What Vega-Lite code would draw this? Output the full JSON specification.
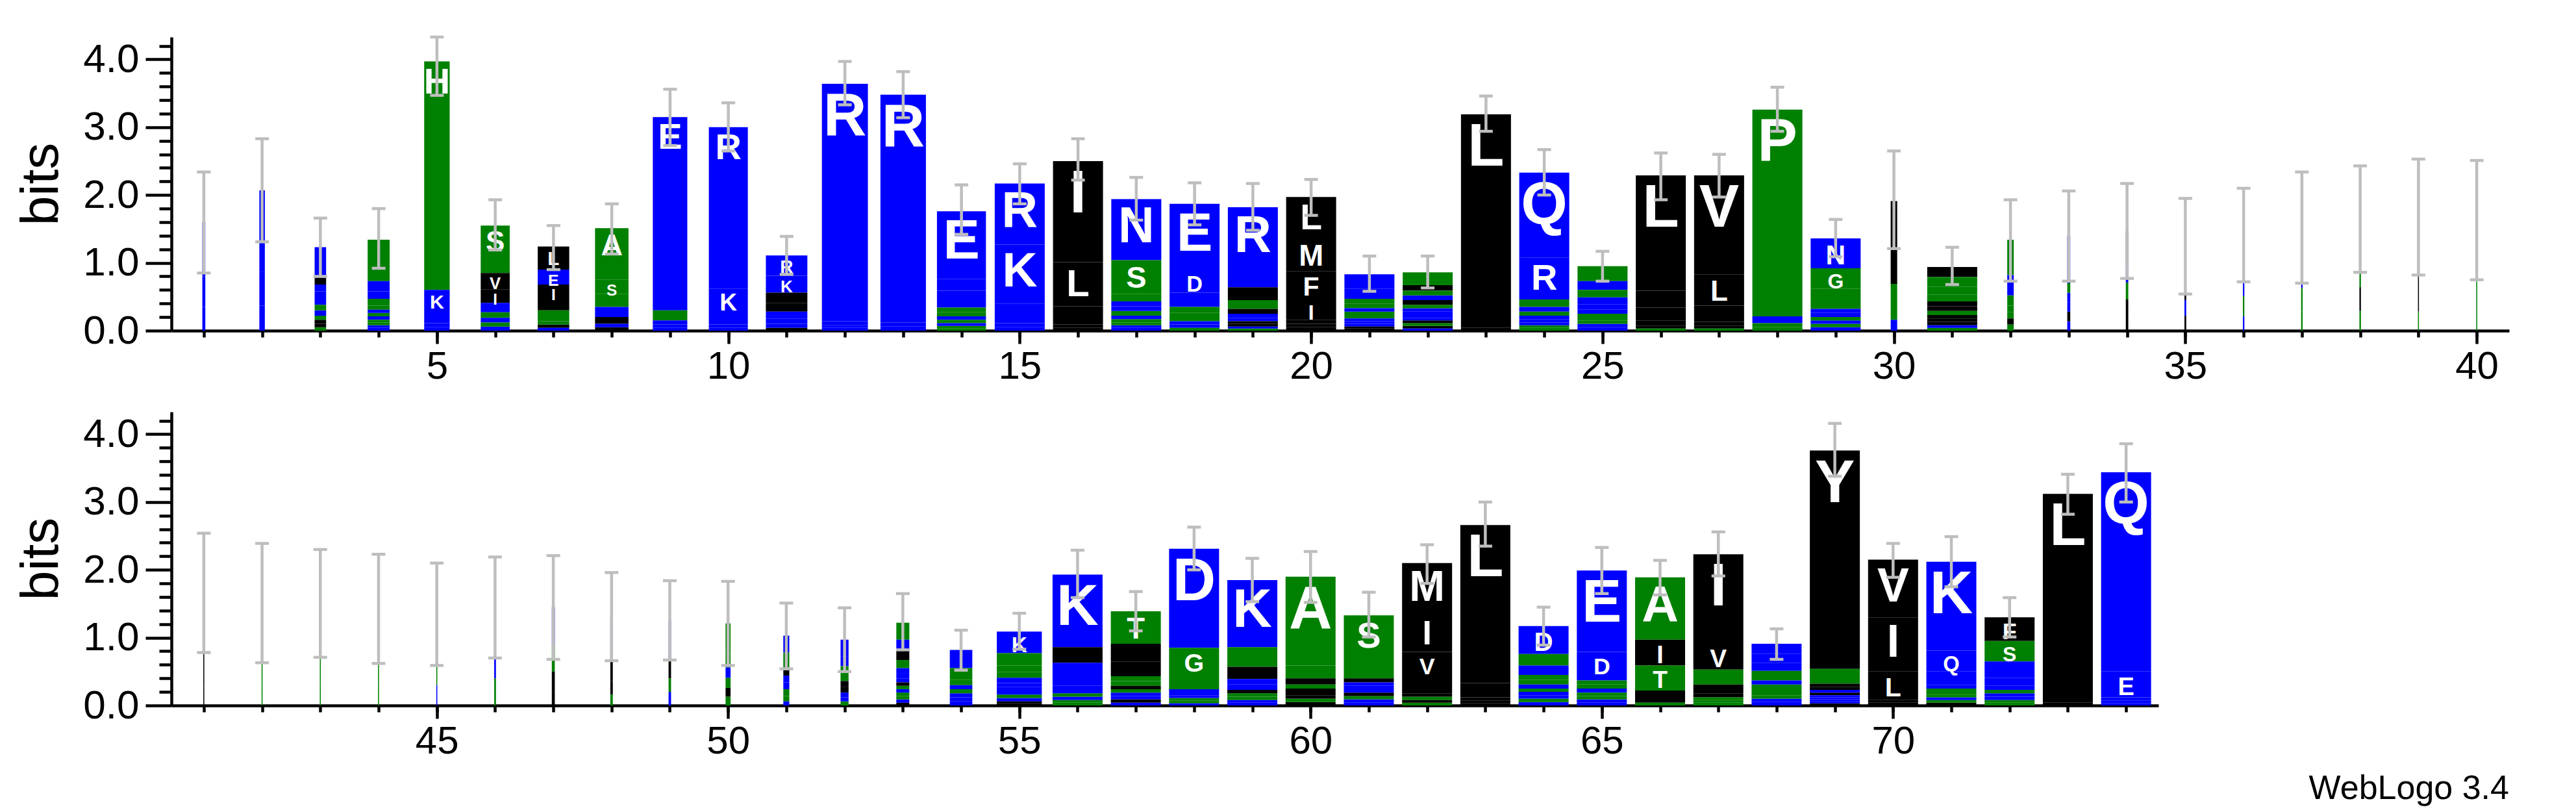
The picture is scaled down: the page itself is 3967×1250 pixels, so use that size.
{
"$schema": "https://vega.github.io/schema/vega-lite/v6.json",
"background": "white",
"padding": {"left": 22, "top": 54, "right": 10, "bottom": 10},
"title": {"text": "WebLogo 3.4", "orient": "bottom", "anchor": "end", "fontSize": 52, "font": "Liberation Sans", "fontWeight": "normal", "color": "black", "offset": 18},
"config": {"view": {"stroke": null}},
"bounds": "flush",
"spacing": 125,
"datasets": {
"E": [
{"p":1,"lo":0.85,"hi":2.34},{"p":2,"lo":1.31,"hi":2.83},{"p":3,"lo":0.8,"hi":1.66},{"p":4,"lo":0.92,"hi":1.8},{"p":5,"lo":3.47,"hi":4.33},
{"p":6,"lo":1.19,"hi":1.93},{"p":7,"lo":0.9,"hi":1.55},{"p":8,"lo":1.13,"hi":1.87},{"p":9,"lo":2.73,"hi":3.56},{"p":10,"lo":2.65,"hi":3.36},
{"p":11,"lo":0.83,"hi":1.39},{"p":12,"lo":3.33,"hi":3.97},{"p":13,"lo":3.14,"hi":3.82},{"p":14,"lo":1.42,"hi":2.15},{"p":15,"lo":1.87,"hi":2.46},
{"p":16,"lo":2.22,"hi":2.83},{"p":17,"lo":1.63,"hi":2.26},{"p":18,"lo":1.56,"hi":2.18},{"p":19,"lo":1.48,"hi":2.17},{"p":20,"lo":1.7,"hi":2.23},
{"p":21,"lo":0.58,"hi":1.1},{"p":22,"lo":0.63,"hi":1.1},{"p":23,"lo":2.94,"hi":3.46},{"p":24,"lo":2.0,"hi":2.67},{"p":25,"lo":0.73,"hi":1.17},
{"p":26,"lo":1.93,"hi":2.62},{"p":27,"lo":1.97,"hi":2.6},{"p":28,"lo":2.94,"hi":3.59},{"p":29,"lo":1.09,"hi":1.64},{"p":30,"lo":1.21,"hi":2.65},
{"p":31,"lo":0.68,"hi":1.23},{"p":32,"lo":0.73,"hi":1.93},{"p":33,"lo":0.73,"hi":2.06},{"p":34,"lo":0.77,"hi":2.17},{"p":35,"lo":0.54,"hi":1.95},
{"p":36,"lo":0.72,"hi":2.1},{"p":37,"lo":0.7,"hi":2.34},{"p":38,"lo":0.86,"hi":2.43},{"p":39,"lo":0.82,"hi":2.53},{"p":40,"lo":0.75,"hi":2.51},
{"p":41,"lo":0.78,"hi":2.54},{"p":42,"lo":0.63,"hi":2.39},{"p":43,"lo":0.71,"hi":2.3},{"p":44,"lo":0.62,"hi":2.23},{"p":45,"lo":0.59,"hi":2.1},
{"p":46,"lo":0.7,"hi":2.19},{"p":47,"lo":0.68,"hi":2.21},{"p":48,"lo":0.66,"hi":1.96},{"p":49,"lo":0.67,"hi":1.84},{"p":50,"lo":0.59,"hi":1.83},
{"p":51,"lo":0.54,"hi":1.51},{"p":52,"lo":0.5,"hi":1.44},{"p":53,"lo":0.82,"hi":1.65},{"p":54,"lo":0.52,"hi":1.11},{"p":55,"lo":0.83,"hi":1.36},
{"p":56,"lo":1.59,"hi":2.29},{"p":57,"lo":1.1,"hi":1.68},{"p":58,"lo":2.0,"hi":2.63},{"p":59,"lo":1.53,"hi":2.17},{"p":60,"lo":1.52,"hi":2.27},
{"p":61,"lo":1.01,"hi":1.67},{"p":62,"lo":1.8,"hi":2.37},{"p":63,"lo":2.35,"hi":3.0},{"p":64,"lo":0.89,"hi":1.45},{"p":65,"lo":1.65,"hi":2.33},
{"p":66,"lo":1.63,"hi":2.14},{"p":67,"lo":1.91,"hi":2.56},{"p":68,"lo":0.68,"hi":1.13},{"p":69,"lo":3.38,"hi":4.16},{"p":70,"lo":1.89,"hi":2.39},
{"p":71,"lo":1.75,"hi":2.49},{"p":72,"lo":1.01,"hi":1.59},{"p":73,"lo":2.82,"hi":3.41},{"p":74,"lo":3.0,"hi":3.86}
],
"L": [
{"p":1,"a":"K","b":0.8,"w":0.06},{"p":1,"a":"R","b":0.45,"w":0.06},{"p":1,"a":"E","b":0.35,"w":0.06},
{"p":2,"a":"K","b":1.2,"w":0.11},{"p":2,"a":"R","b":0.5,"w":0.11},{"p":2,"a":"E","b":0.37,"w":0.11},
{"p":3,"a":"K","b":0.34,"w":0.23},{"p":3,"a":"D","b":0.1,"w":0.23},{"p":3,"a":"E","b":0.1,"w":0.23},{"p":3,"a":"R","b":0.1,"w":0.23},{"p":3,"a":"Q","b":0.11,"w":0.23},{"p":3,"a":"I","b":0.1,"w":0.23},{"p":3,"a":"N","b":0.08,"w":0.23},{"p":3,"a":"T","b":0.08,"w":0.23},{"p":3,"a":"V","b":0.06,"w":0.23},{"p":3,"a":"S","b":0.06,"w":0.23},{"p":3,"a":"A","b":0.05,"w":0.23},{"p":3,"a":"L","b":0.05,"w":0.23},
{"p":4,"a":"S","b":0.61,"w":0.44},{"p":4,"a":"N","b":0.15,"w":0.44},{"p":4,"a":"E","b":0.11,"w":0.44},{"p":4,"a":"A","b":0.1,"w":0.44},{"p":4,"a":"T","b":0.06,"w":0.44},{"p":4,"a":"K","b":0.05,"w":0.44},{"p":4,"a":"G","b":0.05,"w":0.44},{"p":4,"a":"D","b":0.05,"w":0.44},{"p":4,"a":"Q","b":0.04,"w":0.44},{"p":4,"a":"R","b":0.04,"w":0.44},{"p":4,"a":"H","b":0.04,"w":0.44},{"p":4,"a":"P","b":0.04,"w":0.44},
{"p":5,"a":"H","b":3.37,"w":0.51},{"p":5,"a":"K","b":0.36,"w":0.51},{"p":5,"a":"N","b":0.13,"w":0.51},{"p":5,"a":"R","b":0.06,"w":0.51},{"p":5,"a":"Q","b":0.05,"w":0.51},
{"p":6,"a":"S","b":0.7,"w":0.58},{"p":6,"a":"V","b":0.24,"w":0.58},{"p":6,"a":"I","b":0.2,"w":0.58},{"p":6,"a":"N","b":0.14,"w":0.58},{"p":6,"a":"T","b":0.08,"w":0.58},{"p":6,"a":"D","b":0.07,"w":0.58},{"p":6,"a":"E","b":0.06,"w":0.58},{"p":6,"a":"G","b":0.06,"w":0.58},
{"p":7,"a":"L","b":0.34,"w":0.63},{"p":7,"a":"E","b":0.22,"w":0.63},{"p":7,"a":"I","b":0.21,"w":0.63},{"p":7,"a":"M","b":0.17,"w":0.63},{"p":7,"a":"A","b":0.16,"w":0.63},{"p":7,"a":"V","b":0.05,"w":0.63},{"p":7,"a":"T","b":0.05,"w":0.63},{"p":7,"a":"K","b":0.04,"w":0.63},
{"p":8,"a":"A","b":0.76,"w":0.67},{"p":8,"a":"S","b":0.21,"w":0.67},{"p":8,"a":"T","b":0.19,"w":0.67},{"p":8,"a":"R","b":0.15,"w":0.67},{"p":8,"a":"V","b":0.1,"w":0.67},{"p":8,"a":"M","b":0.05,"w":0.67},{"p":8,"a":"K","b":0.05,"w":0.67},
{"p":9,"a":"E","b":2.85,"w":0.69},{"p":9,"a":"A","b":0.15,"w":0.69},{"p":9,"a":"K","b":0.06,"w":0.69},{"p":9,"a":"D","b":0.05,"w":0.69},{"p":9,"a":"Q","b":0.04,"w":0.69},
{"p":10,"a":"R","b":2.38,"w":0.78},{"p":10,"a":"K","b":0.53,"w":0.78},{"p":10,"a":"E","b":0.05,"w":0.78},{"p":10,"a":"Q","b":0.04,"w":0.78},
{"p":11,"a":"R","b":0.3,"w":0.83},{"p":11,"a":"K","b":0.25,"w":0.83},{"p":11,"a":"L","b":0.15,"w":0.83},{"p":11,"a":"V","b":0.13,"w":0.83},{"p":11,"a":"E","b":0.1,"w":0.83},{"p":11,"a":"D","b":0.08,"w":0.83},{"p":11,"a":"Q","b":0.06,"w":0.83},{"p":11,"a":"I","b":0.04,"w":0.83},
{"p":12,"a":"R","b":3.5,"w":0.92},{"p":12,"a":"K","b":0.06,"w":0.92},{"p":12,"a":"Q","b":0.04,"w":0.92},{"p":12,"a":"E","b":0.04,"w":0.92},
{"p":13,"a":"R","b":3.28,"w":0.91},{"p":13,"a":"K","b":0.08,"w":0.91},{"p":13,"a":"Q","b":0.06,"w":0.91},{"p":13,"a":"E","b":0.06,"w":0.91},
{"p":14,"a":"E","b":1.0,"w":0.98},{"p":14,"a":"K","b":0.17,"w":0.98},{"p":14,"a":"D","b":0.15,"w":0.98},{"p":14,"a":"Q","b":0.1,"w":0.98},{"p":14,"a":"T","b":0.07,"w":0.98},{"p":14,"a":"S","b":0.06,"w":0.98},{"p":14,"a":"G","b":0.05,"w":0.98},{"p":14,"a":"N","b":0.05,"w":0.98},{"p":14,"a":"A","b":0.04,"w":0.98},{"p":14,"a":"R","b":0.04,"w":0.98},{"p":14,"a":"H","b":0.03,"w":0.98},
{"p":15,"a":"R","b":0.9,"w":1},{"p":15,"a":"K","b":0.87,"w":1},{"p":15,"a":"E","b":0.15,"w":1},{"p":15,"a":"Q","b":0.14,"w":1},{"p":15,"a":"D","b":0.06,"w":1},{"p":15,"a":"N","b":0.05,"w":1},
{"p":16,"a":"I","b":1.49,"w":1},{"p":16,"a":"L","b":0.65,"w":1},{"p":16,"a":"M","b":0.27,"w":1},{"p":16,"a":"V","b":0.05,"w":1},{"p":16,"a":"F","b":0.04,"w":1},
{"p":17,"a":"N","b":0.9,"w":1},{"p":17,"a":"S","b":0.5,"w":1},{"p":17,"a":"G","b":0.11,"w":1},{"p":17,"a":"A","b":0.07,"w":1},{"p":17,"a":"E","b":0.07,"w":1},{"p":17,"a":"D","b":0.07,"w":1},{"p":17,"a":"T","b":0.05,"w":1},{"p":17,"a":"Q","b":0.05,"w":1},{"p":17,"a":"K","b":0.04,"w":1},{"p":17,"a":"R","b":0.04,"w":1},{"p":17,"a":"P","b":0.04,"w":1},
{"p":18,"a":"E","b":0.98,"w":1},{"p":18,"a":"D","b":0.33,"w":1},{"p":18,"a":"Q","b":0.21,"w":1},{"p":18,"a":"A","b":0.09,"w":1},{"p":18,"a":"G","b":0.06,"w":1},{"p":18,"a":"S","b":0.06,"w":1},{"p":18,"a":"K","b":0.05,"w":1},{"p":18,"a":"N","b":0.05,"w":1},{"p":18,"a":"T","b":0.04,"w":1},
{"p":19,"a":"R","b":0.93,"w":1},{"p":19,"a":"K","b":0.25,"w":1},{"p":19,"a":"L","b":0.19,"w":1},{"p":19,"a":"H","b":0.13,"w":1},{"p":19,"a":"M","b":0.07,"w":1},{"p":19,"a":"E","b":0.06,"w":1},{"p":19,"a":"Q","b":0.05,"w":1},{"p":19,"a":"I","b":0.04,"w":1},{"p":19,"a":"V","b":0.04,"w":1},{"p":19,"a":"T","b":0.03,"w":1},{"p":19,"a":"N","b":0.03,"w":1},
{"p":20,"a":"L","b":0.61,"w":1},{"p":20,"a":"M","b":0.48,"w":1},{"p":20,"a":"F","b":0.42,"w":1},{"p":20,"a":"I","b":0.3,"w":1},{"p":20,"a":"V","b":0.06,"w":1},{"p":20,"a":"Y","b":0.05,"w":1},{"p":20,"a":"C","b":0.05,"w":1},
{"p":21,"a":"K","b":0.21,"w":1},{"p":21,"a":"R","b":0.15,"w":1},{"p":21,"a":"G","b":0.07,"w":1},{"p":21,"a":"S","b":0.07,"w":1},{"p":21,"a":"T","b":0.05,"w":1},{"p":21,"a":"A","b":0.05,"w":1},{"p":21,"a":"E","b":0.05,"w":1},{"p":21,"a":"Q","b":0.04,"w":1},{"p":21,"a":"N","b":0.04,"w":1},{"p":21,"a":"D","b":0.04,"w":1},{"p":21,"a":"L","b":0.03,"w":1},{"p":21,"a":"I","b":0.03,"w":1},
{"p":22,"a":"A","b":0.19,"w":1},{"p":22,"a":"L","b":0.08,"w":1},{"p":22,"a":"I","b":0.07,"w":1},{"p":22,"a":"K","b":0.07,"w":1},{"p":22,"a":"T","b":0.07,"w":1},{"p":22,"a":"E","b":0.05,"w":1},{"p":22,"a":"R","b":0.05,"w":1},{"p":22,"a":"S","b":0.05,"w":1},{"p":22,"a":"V","b":0.04,"w":1},{"p":22,"a":"G","b":0.04,"w":1},{"p":22,"a":"M","b":0.04,"w":1},{"p":22,"a":"Q","b":0.04,"w":1},{"p":22,"a":"D","b":0.03,"w":1},{"p":22,"a":"N","b":0.04,"w":1},
{"p":23,"a":"L","b":3.15,"w":1},{"p":23,"a":"V","b":0.04,"w":1},
{"p":24,"a":"Q","b":1.25,"w":1},{"p":24,"a":"R","b":0.62,"w":1},{"p":24,"a":"S","b":0.11,"w":1},{"p":24,"a":"K","b":0.07,"w":1},{"p":24,"a":"G","b":0.06,"w":1},{"p":24,"a":"N","b":0.05,"w":1},{"p":24,"a":"E","b":0.05,"w":1},{"p":24,"a":"T","b":0.04,"w":1},{"p":24,"a":"A","b":0.04,"w":1},{"p":24,"a":"D","b":0.04,"w":1},
{"p":25,"a":"S","b":0.22,"w":1},{"p":25,"a":"E","b":0.13,"w":1},{"p":25,"a":"A","b":0.11,"w":1},{"p":25,"a":"D","b":0.1,"w":1},{"p":25,"a":"Q","b":0.08,"w":1},{"p":25,"a":"K","b":0.06,"w":1},{"p":25,"a":"N","b":0.05,"w":1},{"p":25,"a":"R","b":0.05,"w":1},{"p":25,"a":"G","b":0.05,"w":1},{"p":25,"a":"T","b":0.05,"w":1},{"p":25,"a":"H","b":0.05,"w":1},
{"p":26,"a":"L","b":1.7,"w":1},{"p":26,"a":"I","b":0.25,"w":1},{"p":26,"a":"V","b":0.19,"w":1},{"p":26,"a":"M","b":0.08,"w":1},{"p":26,"a":"F","b":0.04,"w":1},{"p":26,"a":"A","b":0.03,"w":1},
{"p":27,"a":"V","b":1.46,"w":1},{"p":27,"a":"L","b":0.46,"w":1},{"p":27,"a":"I","b":0.24,"w":1},{"p":27,"a":"M","b":0.06,"w":1},{"p":27,"a":"F","b":0.04,"w":1},{"p":27,"a":"A","b":0.03,"w":1},
{"p":28,"a":"P","b":2.8,"w":1},{"p":28,"a":"S","b":0.25,"w":1},{"p":28,"a":"E","b":0.1,"w":1},{"p":28,"a":"A","b":0.06,"w":1},{"p":28,"a":"T","b":0.05,"w":1},
{"p":29,"a":"N","b":0.44,"w":1},{"p":29,"a":"G","b":0.3,"w":1},{"p":29,"a":"P","b":0.17,"w":1},{"p":29,"a":"S","b":0.13,"w":1},{"p":29,"a":"E","b":0.06,"w":1},{"p":29,"a":"D","b":0.06,"w":1},{"p":29,"a":"K","b":0.05,"w":1},{"p":29,"a":"A","b":0.05,"w":1},{"p":29,"a":"Q","b":0.05,"w":1},{"p":29,"a":"T","b":0.05,"w":1},
{"p":30,"a":"I","b":1.22,"w":0.13},{"p":30,"a":"G","b":0.53,"w":0.13},{"p":30,"a":"E","b":0.16,"w":0.13},
{"p":31,"a":"C","b":0.15,"w":1},{"p":31,"a":"G","b":0.14,"w":1},{"p":31,"a":"S","b":0.12,"w":1},{"p":31,"a":"A","b":0.1,"w":1},{"p":31,"a":"V","b":0.07,"w":1},{"p":31,"a":"L","b":0.07,"w":1},{"p":31,"a":"T","b":0.06,"w":1},{"p":31,"a":"I","b":0.05,"w":1},{"p":31,"a":"M","b":0.05,"w":1},{"p":31,"a":"F","b":0.05,"w":1},{"p":31,"a":"P","b":0.04,"w":1},{"p":31,"a":"K","b":0.04,"w":1},
{"p":32,"a":"S","b":0.52,"w":0.13},{"p":32,"a":"R","b":0.3,"w":0.13},{"p":32,"a":"T","b":0.15,"w":0.13},{"p":32,"a":"P","b":0.1,"w":0.13},{"p":32,"a":"A","b":0.09,"w":0.13},{"p":32,"a":"C","b":0.09,"w":0.13},{"p":32,"a":"G","b":0.09,"w":0.13},
{"p":33,"a":"N","b":0.5,"w":0.06},{"p":33,"a":"K","b":0.2,"w":0.06},{"p":33,"a":"E","b":0.14,"w":0.06},{"p":33,"a":"C","b":0.14,"w":0.06},{"p":33,"a":"Q","b":0.14,"w":0.06},{"p":33,"a":"R","b":0.14,"w":0.06},{"p":33,"a":"S","b":0.14,"w":0.06},
{"p":34,"a":"L","b":0.5,"w":0.05},{"p":34,"a":"R","b":0.26,"w":0.05},{"p":34,"a":"P","b":0.25,"w":0.05},{"p":34,"a":"V","b":0.24,"w":0.05},{"p":34,"a":"F","b":0.22,"w":0.05},
{"p":35,"a":"I","b":0.5,"w":0.035},{"p":35,"a":"L","b":0.3,"w":0.035},{"p":35,"a":"R","b":0.23,"w":0.035},{"p":35,"a":"V","b":0.22,"w":0.035},
{"p":36,"a":"K","b":0.5,"w":0.03},{"p":36,"a":"N","b":0.4,"w":0.03},{"p":36,"a":"P","b":0.3,"w":0.03},{"p":36,"a":"E","b":0.21,"w":0.03},
{"p":37,"a":"S","b":0.5,"w":0.03},{"p":37,"a":"R","b":0.4,"w":0.03},{"p":37,"a":"G","b":0.35,"w":0.03},{"p":37,"a":"T","b":0.28,"w":0.03},
{"p":38,"a":"G","b":0.5,"w":0.03},{"p":38,"a":"D","b":0.5,"w":0.03},{"p":38,"a":"L","b":0.35,"w":0.03},{"p":38,"a":"T","b":0.29,"w":0.03},
{"p":39,"a":"V","b":0.9,"w":0.02},{"p":39,"a":"L","b":0.5,"w":0.02},{"p":39,"a":"G","b":0.28,"w":0.02},
{"p":40,"a":"G","b":0.9,"w":0.02},{"p":40,"a":"S","b":0.4,"w":0.02},{"p":40,"a":"A","b":0.32,"w":0.02},
{"p":41,"a":"L","b":0.9,"w":0.02},{"p":41,"a":"V","b":0.5,"w":0.02},{"p":41,"a":"I","b":0.27,"w":0.02},
{"p":42,"a":"G","b":0.8,"w":0.02},{"p":42,"a":"S","b":0.4,"w":0.02},{"p":42,"a":"T","b":0.31,"w":0.02},
{"p":43,"a":"K","b":0.7,"w":0.02},{"p":43,"a":"G","b":0.45,"w":0.02},{"p":43,"a":"S","b":0.34,"w":0.02},
{"p":44,"a":"S","b":0.7,"w":0.02},{"p":44,"a":"G","b":0.4,"w":0.02},{"p":44,"a":"T","b":0.33,"w":0.02},
{"p":45,"a":"S","b":0.7,"w":0.02},{"p":45,"a":"G","b":0.35,"w":0.02},{"p":45,"a":"E","b":0.3,"w":0.02},
{"p":46,"a":"A","b":0.6,"w":0.035},{"p":46,"a":"N","b":0.45,"w":0.035},{"p":46,"a":"P","b":0.4,"w":0.035},
{"p":47,"a":"N","b":0.55,"w":0.06},{"p":47,"a":"S","b":0.4,"w":0.06},{"p":47,"a":"L","b":0.3,"w":0.06},{"p":47,"a":"I","b":0.2,"w":0.06},
{"p":48,"a":"Q","b":0.5,"w":0.05},{"p":48,"a":"V","b":0.45,"w":0.05},{"p":48,"a":"Y","b":0.2,"w":0.05},{"p":48,"a":"G","b":0.16,"w":0.05},
{"p":49,"a":"K","b":0.55,"w":0.05},{"p":49,"a":"I","b":0.3,"w":0.05},{"p":49,"a":"R","b":0.2,"w":0.05},{"p":49,"a":"P","b":0.2,"w":0.05},
{"p":50,"a":"G","b":0.45,"w":0.1},{"p":50,"a":"S","b":0.2,"w":0.1},{"p":50,"a":"P","b":0.15,"w":0.1},{"p":50,"a":"R","b":0.15,"w":0.1},{"p":50,"a":"T","b":0.13,"w":0.1},{"p":50,"a":"W","b":0.13,"w":0.1},
{"p":51,"a":"D","b":0.25,"w":0.12},{"p":51,"a":"S","b":0.22,"w":0.12},{"p":51,"a":"L","b":0.12,"w":0.12},{"p":51,"a":"A","b":0.1,"w":0.12},{"p":51,"a":"E","b":0.1,"w":0.12},{"p":51,"a":"K","b":0.1,"w":0.12},{"p":51,"a":"P","b":0.08,"w":0.12},{"p":51,"a":"R","b":0.06,"w":0.12},
{"p":52,"a":"R","b":0.25,"w":0.16},{"p":52,"a":"N","b":0.14,"w":0.16},{"p":52,"a":"T","b":0.12,"w":0.16},{"p":52,"a":"H","b":0.1,"w":0.16},{"p":52,"a":"I","b":0.09,"w":0.16},{"p":52,"a":"L","b":0.08,"w":0.16},{"p":52,"a":"K","b":0.07,"w":0.16},{"p":52,"a":"A","b":0.06,"w":0.16},{"p":52,"a":"E","b":0.06,"w":0.16},
{"p":53,"a":"G","b":0.25,"w":0.26},{"p":53,"a":"K","b":0.16,"w":0.26},{"p":53,"a":"Y","b":0.14,"w":0.26},{"p":53,"a":"S","b":0.12,"w":0.26},{"p":53,"a":"D","b":0.08,"w":0.26},{"p":53,"a":"Q","b":0.07,"w":0.26},{"p":53,"a":"E","b":0.06,"w":0.26},{"p":53,"a":"N","b":0.05,"w":0.26},{"p":53,"a":"T","b":0.05,"w":0.26},{"p":53,"a":"A","b":0.05,"w":0.26},{"p":53,"a":"R","b":0.05,"w":0.26},{"p":53,"a":"P","b":0.05,"w":0.26},{"p":53,"a":"L","b":0.04,"w":0.26},{"p":53,"a":"V","b":0.05,"w":0.26},
{"p":54,"a":"N","b":0.14,"w":0.45},{"p":54,"a":"D","b":0.13,"w":0.45},{"p":54,"a":"S","b":0.09,"w":0.45},{"p":54,"a":"A","b":0.08,"w":0.45},{"p":54,"a":"G","b":0.08,"w":0.45},{"p":54,"a":"Q","b":0.06,"w":0.45},{"p":54,"a":"E","b":0.06,"w":0.45},{"p":54,"a":"K","b":0.06,"w":0.45},{"p":54,"a":"T","b":0.06,"w":0.45},{"p":54,"a":"R","b":0.06,"w":0.45},
{"p":55,"a":"K","b":0.32,"w":0.9},{"p":55,"a":"T","b":0.18,"w":0.9},{"p":55,"a":"G","b":0.1,"w":0.9},{"p":55,"a":"N","b":0.08,"w":0.9},{"p":55,"a":"S","b":0.08,"w":0.9},{"p":55,"a":"E","b":0.06,"w":0.9},{"p":55,"a":"D","b":0.06,"w":0.9},{"p":55,"a":"Q","b":0.05,"w":0.9},{"p":55,"a":"A","b":0.05,"w":0.9},{"p":55,"a":"R","b":0.05,"w":0.9},{"p":55,"a":"V","b":0.03,"w":0.9},{"p":55,"a":"I","b":0.03,"w":0.9},
{"p":56,"a":"K","b":1.07,"w":1},{"p":56,"a":"V","b":0.23,"w":1},{"p":56,"a":"Q","b":0.18,"w":1},{"p":56,"a":"R","b":0.16,"w":1},{"p":56,"a":"E","b":0.06,"w":1},{"p":56,"a":"N","b":0.05,"w":1},{"p":56,"a":"S","b":0.05,"w":1},{"p":56,"a":"T","b":0.04,"w":1},{"p":56,"a":"A","b":0.04,"w":1},{"p":56,"a":"D","b":0.05,"w":1},
{"p":57,"a":"T","b":0.48,"w":1},{"p":57,"a":"V","b":0.26,"w":1},{"p":57,"a":"M","b":0.22,"w":1},{"p":57,"a":"A","b":0.07,"w":1},{"p":57,"a":"G","b":0.07,"w":1},{"p":57,"a":"L","b":0.05,"w":1},{"p":57,"a":"E","b":0.05,"w":1},{"p":57,"a":"D","b":0.05,"w":1},{"p":57,"a":"S","b":0.05,"w":1},{"p":57,"a":"I","b":0.05,"w":1},{"p":57,"a":"N","b":0.04,"w":1},
{"p":58,"a":"D","b":1.46,"w":1},{"p":58,"a":"G","b":0.4,"w":1},{"p":58,"a":"S","b":0.21,"w":1},{"p":58,"a":"N","b":0.09,"w":1},{"p":58,"a":"T","b":0.04,"w":1},{"p":58,"a":"A","b":0.04,"w":1},{"p":58,"a":"E","b":0.04,"w":1},{"p":58,"a":"K","b":0.03,"w":1},
{"p":59,"a":"K","b":0.99,"w":1},{"p":59,"a":"T","b":0.29,"w":1},{"p":59,"a":"I","b":0.18,"w":1},{"p":59,"a":"Q","b":0.08,"w":1},{"p":59,"a":"R","b":0.08,"w":1},{"p":59,"a":"G","b":0.05,"w":1},{"p":59,"a":"S","b":0.05,"w":1},{"p":59,"a":"E","b":0.04,"w":1},{"p":59,"a":"V","b":0.05,"w":1},{"p":59,"a":"N","b":0.04,"w":1},
{"p":60,"a":"A","b":1.31,"w":1},{"p":60,"a":"S","b":0.19,"w":1},{"p":60,"a":"V","b":0.09,"w":1},{"p":60,"a":"T","b":0.06,"w":1},{"p":60,"a":"L","b":0.05,"w":1},{"p":60,"a":"G","b":0.05,"w":1},{"p":60,"a":"I","b":0.05,"w":1},{"p":60,"a":"C","b":0.05,"w":1},{"p":60,"a":"M","b":0.05,"w":1},
{"p":61,"a":"S","b":0.62,"w":1},{"p":61,"a":"T","b":0.24,"w":1},{"p":61,"a":"A","b":0.07,"w":1},{"p":61,"a":"L","b":0.06,"w":1},{"p":61,"a":"E","b":0.05,"w":1},{"p":61,"a":"G","b":0.05,"w":1},{"p":61,"a":"V","b":0.05,"w":1},{"p":61,"a":"D","b":0.05,"w":1},{"p":61,"a":"N","b":0.05,"w":1},{"p":61,"a":"K","b":0.05,"w":1},{"p":61,"a":"Q","b":0.04,"w":1},
{"p":62,"a":"M","b":0.75,"w":1},{"p":62,"a":"I","b":0.56,"w":1},{"p":62,"a":"V","b":0.35,"w":1},{"p":62,"a":"L","b":0.26,"w":1},{"p":62,"a":"T","b":0.05,"w":1},{"p":62,"a":"F","b":0.05,"w":1},{"p":62,"a":"A","b":0.04,"w":1},{"p":62,"a":"C","b":0.04,"w":1},
{"p":63,"a":"L","b":2.33,"w":1},{"p":63,"a":"V","b":0.21,"w":1},{"p":63,"a":"I","b":0.05,"w":1},{"p":63,"a":"M","b":0.04,"w":1},{"p":63,"a":"F","b":0.03,"w":1},
{"p":64,"a":"D","b":0.41,"w":1},{"p":64,"a":"G","b":0.17,"w":1},{"p":64,"a":"E","b":0.14,"w":1},{"p":64,"a":"S","b":0.07,"w":1},{"p":64,"a":"A","b":0.07,"w":1},{"p":64,"a":"K","b":0.06,"w":1},{"p":64,"a":"N","b":0.05,"w":1},{"p":64,"a":"T","b":0.05,"w":1},{"p":64,"a":"Q","b":0.05,"w":1},{"p":64,"a":"R","b":0.05,"w":1},{"p":64,"a":"P","b":0.05,"w":1},
{"p":65,"a":"E","b":1.2,"w":1},{"p":65,"a":"D","b":0.35,"w":1},{"p":65,"a":"K","b":0.07,"w":1},{"p":65,"a":"Q","b":0.06,"w":1},{"p":65,"a":"S","b":0.06,"w":1},{"p":65,"a":"G","b":0.06,"w":1},{"p":65,"a":"N","b":0.05,"w":1},{"p":65,"a":"A","b":0.05,"w":1},{"p":65,"a":"T","b":0.05,"w":1},{"p":65,"a":"R","b":0.04,"w":1},
{"p":66,"a":"A","b":0.92,"w":1},{"p":66,"a":"I","b":0.38,"w":1},{"p":66,"a":"T","b":0.37,"w":1},{"p":66,"a":"V","b":0.18,"w":1},{"p":66,"a":"S","b":0.04,"w":1},
{"p":67,"a":"I","b":1.31,"w":1},{"p":67,"a":"V","b":0.39,"w":1},{"p":67,"a":"A","b":0.22,"w":1},{"p":67,"a":"C","b":0.13,"w":1},{"p":67,"a":"L","b":0.06,"w":1},{"p":67,"a":"G","b":0.04,"w":1},{"p":67,"a":"S","b":0.04,"w":1},{"p":67,"a":"T","b":0.04,"w":1},
{"p":68,"a":"D","b":0.15,"w":1},{"p":68,"a":"N","b":0.13,"w":1},{"p":68,"a":"E","b":0.12,"w":1},{"p":68,"a":"T","b":0.07,"w":1},{"p":68,"a":"S","b":0.07,"w":1},{"p":68,"a":"G","b":0.06,"w":1},{"p":68,"a":"K","b":0.06,"w":1},{"p":68,"a":"Q","b":0.05,"w":1},{"p":68,"a":"R","b":0.05,"w":1},{"p":68,"a":"A","b":0.05,"w":1},{"p":68,"a":"H","b":0.05,"w":1},{"p":68,"a":"P","b":0.05,"w":1},
{"p":69,"a":"Y","b":3.22,"w":1},{"p":69,"a":"H","b":0.22,"w":1},{"p":69,"a":"L","b":0.05,"w":1},{"p":69,"a":"F","b":0.04,"w":1},{"p":69,"a":"N","b":0.04,"w":1},{"p":69,"a":"W","b":0.04,"w":1},{"p":69,"a":"C","b":0.03,"w":1},{"p":69,"a":"R","b":0.03,"w":1},{"p":69,"a":"E","b":0.03,"w":1},{"p":69,"a":"Q","b":0.03,"w":1},{"p":69,"a":"K","b":0.03,"w":1},
{"p":70,"a":"V","b":0.85,"w":1},{"p":70,"a":"I","b":0.8,"w":1},{"p":70,"a":"L","b":0.42,"w":1},{"p":70,"a":"M","b":0.04,"w":1},{"p":70,"a":"F","b":0.04,"w":1},
{"p":71,"a":"K","b":1.31,"w":1},{"p":71,"a":"Q","b":0.31,"w":1},{"p":71,"a":"R","b":0.2,"w":1},{"p":71,"a":"S","b":0.05,"w":1},{"p":71,"a":"E","b":0.05,"w":1},{"p":71,"a":"L","b":0.04,"w":1},{"p":71,"a":"G","b":0.04,"w":1},{"p":71,"a":"N","b":0.04,"w":1},{"p":71,"a":"H","b":0.04,"w":1},{"p":71,"a":"T","b":0.04,"w":1},
{"p":72,"a":"F","b":0.35,"w":1},{"p":72,"a":"S","b":0.3,"w":1},{"p":72,"a":"E","b":0.24,"w":1},{"p":72,"a":"Q","b":0.12,"w":1},{"p":72,"a":"K","b":0.06,"w":1},{"p":72,"a":"D","b":0.05,"w":1},{"p":72,"a":"N","b":0.05,"w":1},{"p":72,"a":"T","b":0.05,"w":1},{"p":72,"a":"G","b":0.04,"w":1},{"p":72,"a":"A","b":0.04,"w":1},
{"p":73,"a":"L","b":3.08,"w":1},{"p":73,"a":"M","b":0.04,"w":1},
{"p":74,"a":"Q","b":2.94,"w":1},{"p":74,"a":"E","b":0.38,"w":1},{"p":74,"a":"D","b":0.05,"w":1},{"p":74,"a":"K","b":0.04,"w":1},{"p":74,"a":"N","b":0.03,"w":1}
]
},
"vconcat": [
{
"width": 3600, "height": 452,
"resolve": {"axis": {"x": "independent", "y": "independent"}, "scale": {"size": "independent"}},
"layer": [
{
"data": {"name": "L"},
"transform": [{"filter": "datum.p <= 40"}, {"stack": "b", "groupby": ["p"], "sort": [{"field": "b", "order": "ascending"}], "as": ["b0", "b1"]}],
"mark": {"type": "bar", "orient": "vertical"},
"encoding": {
"x": {"field": "p", "type": "quantitative", "scale": {"domain": [0.5, 40.5], "nice": false, "zero": false},
 "axis": {"orient": "bottom", "values": [5,10,15,20,25,30,35,40], "format": "d", "title": null, "grid": false, "tickSize": 20, "tickWidth": 4.5, "tickColor": "black", "domainWidth": 4.5, "domainColor": "black", "labelFont": "Liberation Sans", "labelFontSize": 60, "labelColor": "black", "labelPadding": 6, "labelFlush": false, "labelOverlap": false}},
"y": {"field": "b1", "type": "quantitative", "scale": {"domain": [0, 4.33], "nice": false},
 "axis": {"orient": "left", "values": [0,1,2,3,4], "format": ".1f", "title": "bits", "grid": false, "tickSize": 40, "tickWidth": 4.5, "tickColor": "black", "domainWidth": 4.5, "domainColor": "black", "labelFont": "Liberation Sans", "labelFontSize": 62, "labelColor": "black", "labelPadding": 10, "labelFlush": false, "labelOverlap": false, "titleFont": "Liberation Sans", "titleFontSize": 82, "titleFontWeight": "normal", "titleColor": "black", "titlePadding": 22}},
"y2": {"field": "b0"},
"color": {"field": "a", "type": "nominal", "legend": null, "scale": {"domain": ["R","K","D","E","N","Q","S","G","H","T","A","P","Y","V","M","C","L","F","I","W"], "range": ["#0000ff","#0000ff","#0000ff","#0000ff","#0000ff","#0000ff","#008000","#008000","#008000","#008000","#008000","#008000","#000000","#000000","#000000","#000000","#000000","#000000","#000000","#000000"]}},
"size": {"field": "w", "type": "quantitative", "legend": null, "scale": {"domain": [0, 1], "range": [0, 77]}}
}
},
{
"data": {"name": "L"},
"transform": [{"filter": "datum.p <= 40"}, {"stack": "b", "groupby": ["p"], "sort": [{"field": "b", "order": "ascending"}], "as": ["b0", "b1"]}, {"filter": "datum.w >= 0.85 && datum.b >= 0.3"}],
"mark": {"type": "text", "color": "white", "font": "Liberation Sans", "fontWeight": "bold", "align": "center", "baseline": "top", "dy": 6},
"encoding": {
"x": {"field": "p", "type": "quantitative", "axis": null},
"y": {"field": "b1", "type": "quantitative", "axis": null},
"text": {"field": "a"},
"size": {"field": "b", "type": "quantitative", "legend": null, "scale": {"domain": [0.3, 1.1], "range": [32, 92], "clamp": true}}
}
},
{
"data": {"name": "L"},
"transform": [{"filter": "datum.p <= 40"}, {"stack": "b", "groupby": ["p"], "sort": [{"field": "b", "order": "ascending"}], "as": ["b0", "b1"]}, {"filter": "datum.w >= 0.5 && datum.w < 0.85 && datum.b >= 0.2"}],
"mark": {"type": "text", "color": "white", "font": "Liberation Sans", "fontWeight": "bold", "align": "center", "baseline": "top", "dy": 5},
"encoding": {
"x": {"field": "p", "type": "quantitative", "axis": null},
"y": {"field": "b1", "type": "quantitative", "axis": null},
"text": {"field": "a"},
"size": {"field": "b", "type": "quantitative", "legend": null, "scale": {"domain": [0.2, 1.0], "range": [24, 56], "clamp": true}}
}
},
{
"data": {"name": "E"},
"transform": [{"filter": "datum.p <= 40"}],
"mark": {"type": "rule", "color": "#bebebe", "strokeWidth": 4.5},
"encoding": {
"x": {"field": "p", "type": "quantitative", "axis": {"orient": "bottom", "values": [1,2,3,4,5,6,7,8,9,10,11,12,13,14,15,16,17,18,19,20,21,22,23,24,25,26,27,28,29,30,31,32,33,34,35,36,37,38,39,40], "labels": false, "domain": false, "grid": false, "title": null, "tickSize": 10, "tickWidth": 4.5, "tickColor": "black"}},
"y": {"field": "lo", "type": "quantitative", "axis": {"orient": "left", "values": [0.2,0.4,0.6,0.8,1.2,1.4,1.6,1.8,2.2,2.4,2.6,2.8,3.2,3.4,3.6,3.8,4.2], "labels": false, "domain": false, "grid": false, "title": null, "tickSize": 19, "tickWidth": 4.5, "tickColor": "black"}},
"y2": {"field": "hi"}
}
},
{
"data": {"name": "E"},
"transform": [{"filter": "datum.p <= 40"}],
"mark": {"type": "tick", "orient": "horizontal", "color": "#bebebe", "size": 21, "thickness": 4.5, "opacity": 1},
"encoding": {"x": {"field": "p", "type": "quantitative", "axis": null}, "y": {"field": "lo", "type": "quantitative", "axis": null}}
},
{
"data": {"name": "E"},
"transform": [{"filter": "datum.p <= 40"}],
"mark": {"type": "tick", "orient": "horizontal", "color": "#bebebe", "size": 21, "thickness": 4.5, "opacity": 1},
"encoding": {"x": {"field": "p", "type": "quantitative", "axis": null}, "y": {"field": "hi", "type": "quantitative", "axis": null}}
}
]
},
{
"width": 3060, "height": 452,
"resolve": {"axis": {"x": "independent", "y": "independent"}, "scale": {"size": "independent"}},
"layer": [
{
"data": {"name": "L"},
"transform": [{"filter": "datum.p > 40"}, {"stack": "b", "groupby": ["p"], "sort": [{"field": "b", "order": "ascending"}], "as": ["b0", "b1"]}],
"mark": {"type": "bar", "orient": "vertical"},
"encoding": {
"x": {"field": "p", "type": "quantitative", "scale": {"domain": [40.5, 74.5], "nice": false, "zero": false},
 "axis": {"orient": "bottom", "values": [45,50,55,60,65,70], "format": "d", "title": null, "grid": false, "tickSize": 20, "tickWidth": 4.5, "tickColor": "black", "domainWidth": 4.5, "domainColor": "black", "labelFont": "Liberation Sans", "labelFontSize": 60, "labelColor": "black", "labelPadding": 6, "labelFlush": false, "labelOverlap": false}},
"y": {"field": "b1", "type": "quantitative", "scale": {"domain": [0, 4.33], "nice": false},
 "axis": {"orient": "left", "values": [0,1,2,3,4], "format": ".1f", "title": "bits", "grid": false, "tickSize": 40, "tickWidth": 4.5, "tickColor": "black", "domainWidth": 4.5, "domainColor": "black", "labelFont": "Liberation Sans", "labelFontSize": 62, "labelColor": "black", "labelPadding": 10, "labelFlush": false, "labelOverlap": false, "titleFont": "Liberation Sans", "titleFontSize": 82, "titleFontWeight": "normal", "titleColor": "black", "titlePadding": 22}},
"y2": {"field": "b0"},
"color": {"field": "a", "type": "nominal", "legend": null, "scale": {"domain": ["R","K","D","E","N","Q","S","G","H","T","A","P","Y","V","M","C","L","F","I","W"], "range": ["#0000ff","#0000ff","#0000ff","#0000ff","#0000ff","#0000ff","#008000","#008000","#008000","#008000","#008000","#008000","#000000","#000000","#000000","#000000","#000000","#000000","#000000","#000000"]}},
"size": {"field": "w", "type": "quantitative", "legend": null, "scale": {"domain": [0, 1], "range": [0, 77]}}
}
},
{
"data": {"name": "L"},
"transform": [{"filter": "datum.p > 40"}, {"stack": "b", "groupby": ["p"], "sort": [{"field": "b", "order": "ascending"}], "as": ["b0", "b1"]}, {"filter": "datum.w >= 0.85 && datum.b >= 0.3"}],
"mark": {"type": "text", "color": "white", "font": "Liberation Sans", "fontWeight": "bold", "align": "center", "baseline": "top", "dy": 6},
"encoding": {
"x": {"field": "p", "type": "quantitative", "axis": null},
"y": {"field": "b1", "type": "quantitative", "axis": null},
"text": {"field": "a"},
"size": {"field": "b", "type": "quantitative", "legend": null, "scale": {"domain": [0.3, 1.1], "range": [32, 92], "clamp": true}}
}
},
{
"data": {"name": "E"},
"transform": [{"filter": "datum.p > 40"}],
"mark": {"type": "rule", "color": "#bebebe", "strokeWidth": 4.5},
"encoding": {
"x": {"field": "p", "type": "quantitative", "axis": {"orient": "bottom", "values": [41,42,43,44,45,46,47,48,49,50,51,52,53,54,55,56,57,58,59,60,61,62,63,64,65,66,67,68,69,70,71,72,73,74], "labels": false, "domain": false, "grid": false, "title": null, "tickSize": 10, "tickWidth": 4.5, "tickColor": "black"}},
"y": {"field": "lo", "type": "quantitative", "axis": {"orient": "left", "values": [0.2,0.4,0.6,0.8,1.2,1.4,1.6,1.8,2.2,2.4,2.6,2.8,3.2,3.4,3.6,3.8,4.2], "labels": false, "domain": false, "grid": false, "title": null, "tickSize": 19, "tickWidth": 4.5, "tickColor": "black"}},
"y2": {"field": "hi"}
}
},
{
"data": {"name": "E"},
"transform": [{"filter": "datum.p > 40"}],
"mark": {"type": "tick", "orient": "horizontal", "color": "#bebebe", "size": 21, "thickness": 4.5, "opacity": 1},
"encoding": {"x": {"field": "p", "type": "quantitative", "axis": null}, "y": {"field": "lo", "type": "quantitative", "axis": null}}
},
{
"data": {"name": "E"},
"transform": [{"filter": "datum.p > 40"}],
"mark": {"type": "tick", "orient": "horizontal", "color": "#bebebe", "size": 21, "thickness": 4.5, "opacity": 1},
"encoding": {"x": {"field": "p", "type": "quantitative", "axis": null}, "y": {"field": "hi", "type": "quantitative", "axis": null}}
}
]
}
]
}
